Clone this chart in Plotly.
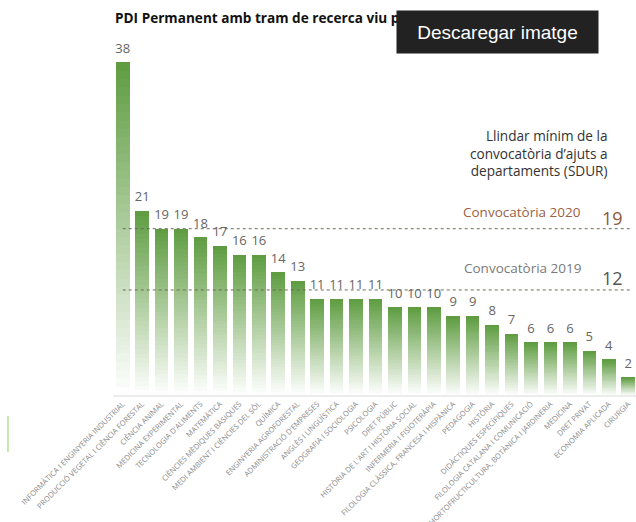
import plotly.graph_objects as go

departments = [
    "INFORMÀTICA I ENGINYERIA INDUSTRIAL",
    "PRODUCCIÓ VEGETAL I CIÈNCIA FORESTAL",
    "CIÈNCIA ANIMAL",
    "MEDICINA EXPERIMENTAL",
    "TECNOLOGIA D'ALIMENTS",
    "MATEMÀTICA",
    "CIÈNCIES MÈDIQUES BÀSIQUES",
    "MEDI AMBIENT I CIÈNCIES DEL SÒL",
    "QUÍMICA",
    "ENGINYERIA AGROFORESTAL",
    "ADMINISTRACIÓ D'EMPRESES",
    "ANGLÈS I LINGÜÍSTICA",
    "GEOGRAFIA I SOCIOLOGIA",
    "PSICOLOGIA",
    "DRET PÚBLIC",
    "HISTÒRIA DE L'ART I HISTÒRIA SOCIAL",
    "INFERMERIA I FISIOTERÀPIA",
    "FILOLOGIA CLÀSSICA, FRANCESA I HISPÀNICA",
    "PEDAGOGIA",
    "HISTÒRIA",
    "DIDÀCTIQUES ESPECÍFIQUES",
    "FILOLOGIA CATALANA I COMUNICACIÓ",
    "HORTOFRUCTICULTURA, BOTÀNICA I JARDINERIA",
    "MEDICINA",
    "DRET PRIVAT",
    "ECONOMIA APLICADA",
    "CIRURGIA",
]
pdi = [38, 21, 19, 19, 18, 17, 16, 16, 14, 13, 11, 11, 11, 11, 10, 10, 10,
       9, 9, 8, 7, 6, 6, 6, 5, 4, 2]
threshold_2020 = 19
threshold_2019 = 12

FONT = "Open Sans"
N_SEG = 40
top_rgb = (94, 156, 64)
bottom_rgb = (255, 255, 255)

fig = go.Figure()
# gradient bars: each bar is split into stacked slices whose colour fades to white at the base
for k in range(N_SEG):
    f = (k + 0.5) / N_SEG
    c = tuple(int(round(b + (t - b) * f)) for t, b in zip(top_rgb, bottom_rgb))
    fig.add_trace(go.Bar(
        x=departments, y=[v / N_SEG for v in pdi],
        marker=dict(color="rgb(%d,%d,%d)" % c, line=dict(width=0)),
        hoverinfo="skip", showlegend=False,
    ))

fig.add_trace(go.Scatter(
    x=departments, y=pdi, mode="markers+text", text=[str(v) for v in pdi],
    marker=dict(size=9, opacity=0),
    textposition="top center", textfont=dict(family=FONT, size=13, color="#666666"),
    hoverinfo="skip", showlegend=False, cliponaxis=False,
))

for val, col in [(threshold_2020, "#6b6b5a"), (threshold_2019, "#6b6b5a")]:
    fig.add_shape(type="line", xref="x", yref="y", x0=-0.0, x1=26.2, y0=val, y1=val,
                  line=dict(color=col, width=1, dash="dot"), layer="above")

annotations = [
    dict(text="<b>PDI Permanent amb tram de recerca viu per departament</b>",
         xref="paper", yref="paper", x=0.0, y=1.035, xanchor="left", yanchor="middle",
         showarrow=False, font=dict(family=FONT, size=13.6, color="#111111")),
    dict(text="Llindar mínim de la<br>convocatòria d’ajuts a<br>departaments (SDUR)",
         xref="x", yref="y", x=25.05, y=27.6, xanchor="right", yanchor="middle", align="right",
         showarrow=False, font=dict(family=FONT, size=13.6, color="#333333")),
    dict(text="Convocatòria 2020", xref="x", yref="y", x=23.66, y=20.9,
         xanchor="right", yanchor="middle", showarrow=False,
         font=dict(family=FONT, size=13.5, color="#9a6142")),
    dict(text=str(threshold_2020), xref="x", yref="y", x=25.82, y=20.2,
         xanchor="right", yanchor="middle", showarrow=False,
         font=dict(family=FONT, size=18, color="#8a5a3c")),
    dict(text="Convocatòria 2019", xref="x", yref="y", x=23.66, y=14.5,
         xanchor="right", yanchor="middle", showarrow=False,
         font=dict(family=FONT, size=13.5, color="#7a7a7a")),
    dict(text=str(threshold_2019), xref="x", yref="y", x=25.82, y=13.4,
         xanchor="right", yanchor="middle", showarrow=False,
         font=dict(family=FONT, size=18, color="#555555")),
    dict(text="Descaregar imatge", xref="paper", yref="paper", x=0.735, y=0.9945,
         xanchor="center", yanchor="middle", showarrow=False, width=201, height=42,
         bgcolor="#222222", borderpad=0, align="center",
         font=dict(family="Liberation Sans", size=19, color="#ffffff")),
]

fig.add_shape(type="line", xref="paper", yref="paper", x0=-0.2008, x1=-0.2008,
              y0=-0.1562, y1=-0.0575, line=dict(color="#b5e08a", width=1.5))

fig.update_layout(
    width=636, height=522,
    margin=dict(l=113, r=0, t=30, b=127, autoexpand=False),
    paper_bgcolor="white", plot_bgcolor="white",
    barmode="stack", bargap=0.3,
    annotations=annotations,
    xaxis=dict(type="category", range=[-0.5, 26.4], tickangle=-45, automargin=False,
               tickfont=dict(family=FONT, size=7.5, color="#8a8a8a"),
               showline=True, linecolor="#ececec", linewidth=1.5,
               showgrid=False, ticks="", fixedrange=True),
    yaxis=dict(range=[0, 41.7], visible=False, showgrid=False, zeroline=False,
               fixedrange=True, automargin=False),
    font=dict(family=FONT),
)

fig.write_html("out.html", config={"displayModeBar": False},
               post_script="document.body.style.margin='0';document.body.style.padding='0';")
